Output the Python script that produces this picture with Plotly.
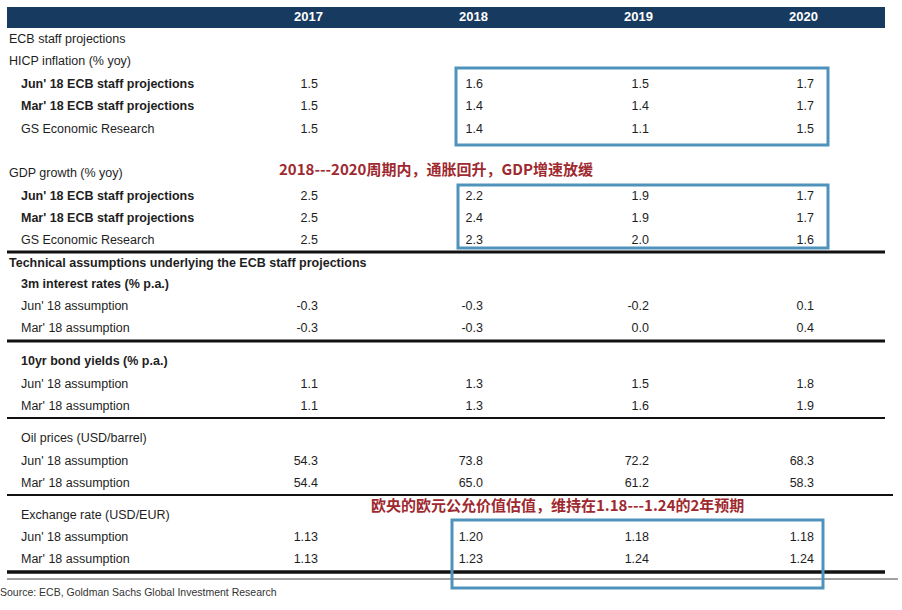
import plotly.graph_objects as go

# ---------------- data ----------------
years = ["2017", "2018", "2019", "2020"]

hicp_jun18 = [1.5, 1.6, 1.5, 1.7]
hicp_mar18 = [1.5, 1.4, 1.4, 1.7]
hicp_gs = [1.5, 1.4, 1.1, 1.5]

gdp_jun18 = [2.5, 2.2, 1.9, 1.7]
gdp_mar18 = [2.5, 2.4, 1.9, 1.7]
gdp_gs = [2.5, 2.3, 2.0, 1.6]

rate3m_jun18 = [-0.3, -0.3, -0.2, 0.1]
rate3m_mar18 = [-0.3, -0.3, 0.0, 0.4]

bond10y_jun18 = [1.1, 1.3, 1.5, 1.8]
bond10y_mar18 = [1.1, 1.3, 1.6, 1.9]

oil_jun18 = [54.3, 73.8, 72.2, 68.3]
oil_mar18 = [54.4, 65.0, 61.2, 58.3]

fx_jun18 = [1.13, 1.20, 1.18, 1.18]
fx_mar18 = [1.13, 1.23, 1.24, 1.24]

note_inflation = "2018---2020周期内，通胀回升，GDP增速放缓"
note_fx = "欧央的欧元公允价值估值，维持在1.18---1.24的2年预期"
source_text = "Source: ECB, Goldman Sachs Global Investment Research"

# rows: (label, level, bold, values, decimals)
rows = [
    ("ECB staff projections", 0, False, None, 1),
    ("HICP inflation (% yoy)", 0, False, None, 1),
    ("Jun' 18 ECB staff projections", 1, True, hicp_jun18, 1),
    ("Mar' 18 ECB staff projections", 1, True, hicp_mar18, 1),
    ("GS Economic Research", 1, False, hicp_gs, 1),
    ("GDP growth (% yoy)", 0, False, None, 1),
    ("Jun' 18 ECB staff projections", 1, True, gdp_jun18, 1),
    ("Mar' 18 ECB staff projections", 1, True, gdp_mar18, 1),
    ("GS Economic Research", 1, False, gdp_gs, 1),
    ("Technical assumptions underlying the ECB staff projections", 0, True, None, 1),
    ("3m interest rates (% p.a.)", 1, True, None, 1),
    ("Jun' 18 assumption", 1, False, rate3m_jun18, 1),
    ("Mar' 18 assumption", 1, False, rate3m_mar18, 1),
    ("10yr bond yields (% p.a.)", 1, True, None, 1),
    ("Jun' 18 assumption", 1, False, bond10y_jun18, 1),
    ("Mar' 18 assumption", 1, False, bond10y_mar18, 1),
    ("Oil prices (USD/barrel)", 1, False, None, 1),
    ("Jun' 18 assumption", 1, False, oil_jun18, 1),
    ("Mar' 18 assumption", 1, False, oil_mar18, 1),
    ("Exchange rate (USD/EUR)", 1, False, None, 2),
    ("Jun' 18 assumption", 1, False, fx_jun18, 2),
    ("Mar' 18 assumption", 1, False, fx_mar18, 2),
]

# ---------------- layout constants (pixel space) ----------------
W, H = 902, 610
row_y = [40, 62, 85, 107, 130, 174, 197, 219, 241, 264, 285, 307, 329,
         362, 385, 407, 439, 462, 484, 516, 538, 560]
level_x = [9, 21]
col_right = [318, 483, 649, 814]
year_right = [323, 488, 653, 818]
header_y = 18

FONT = "Arial, Liberation Sans, sans-serif"
TXT = "#1e1e1e"
NAVY = "#173a60"
BOXC = "#4f93bd"
RED = "#9e2a30"

fig = go.Figure()

# header years
fig.add_trace(go.Scatter(
    x=year_right, y=[header_y] * 4, mode="text",
    text=["<b>%s</b>" % y for y in years], textposition="middle left",
    textfont=dict(family=FONT, size=13, color="white"),
    hoverinfo="skip", showlegend=False))

# row labels
for bold in (False, True):
    xs, ys, ts = [], [], []
    for (lab, lvl, b, vals, dec), yy in zip(rows, row_y):
        if b == bold:
            xs.append(level_x[lvl]); ys.append(yy)
            ts.append("<b>%s</b>" % lab if b else lab)
    fig.add_trace(go.Scatter(
        x=xs, y=ys, mode="text", text=ts, textposition="middle right",
        textfont=dict(family=FONT, size=12.5, color=TXT),
        hoverinfo="skip", showlegend=False))

# values
xs, ys, ts = [], [], []
for (lab, lvl, b, vals, dec), yy in zip(rows, row_y):
    if vals is None:
        continue
    for cx, v in zip(col_right, vals):
        xs.append(cx); ys.append(yy); ts.append(f"{v:.{dec}f}")
fig.add_trace(go.Scatter(
    x=xs, y=ys, mode="text", text=ts, textposition="middle left",
    textfont=dict(family=FONT, size=12.5, color=TXT),
    hoverinfo="skip", showlegend=False))

# red notes
fig.add_trace(go.Scatter(
    x=[279, 371], y=[171, 507], mode="text",
    text=["<b>%s</b>" % note_inflation, "<b>%s</b>" % note_fx],
    textposition="middle right",
    textfont=dict(family="Noto Sans CJK SC, sans-serif", size=15, color=RED),
    hoverinfo="skip", showlegend=False))

# source
fig.add_trace(go.Scatter(
    x=[0], y=[593], mode="text", text=[source_text], textposition="middle right",
    textfont=dict(family="Liberation Sans Narrow, Arial Narrow, Liberation Sans, sans-serif",
                  size=10.5, color="#333333"),
    hoverinfo="skip", showlegend=False))

shapes = []
# header bar
shapes.append(dict(type="rect", x0=7, x1=885, y0=7, y1=28, fillcolor=NAVY,
                   line=dict(width=0), layer="below"))
# separators (y, x1, width)
for yy, x1, wdt in [(252, 885, 3), (341, 885, 3), (418, 885, 2), (495, 893, 2),
                    (572, 885, 3.5), (579, 898, 1)]:
    shapes.append(dict(type="line", x0=7, x1=x1, y0=yy, y1=yy,
                       line=dict(color="#111111" if wdt > 1 else "#444444", width=wdt)))
# blue highlight boxes
for x0, x1, y0, y1 in [(456, 828, 68, 145), (458, 828, 185, 248), (452, 823, 520, 588)]:
    shapes.append(dict(type="rect", x0=x0, x1=x1, y0=y0, y1=y1,
                       line=dict(color=BOXC, width=3), fillcolor="rgba(0,0,0,0)"))

fig.update_layout(
    width=W, height=H, margin=dict(l=0, r=0, t=0, b=0),
    paper_bgcolor="white", plot_bgcolor="white", shapes=shapes,
    xaxis=dict(range=[0, W], visible=False, fixedrange=True),
    yaxis=dict(range=[H, 0], visible=False, fixedrange=True),
)
fig.write_html("out.html", config={"displayModeBar": False},
               post_script="document.body.style.margin='0';document.body.style.overflow='hidden';")
